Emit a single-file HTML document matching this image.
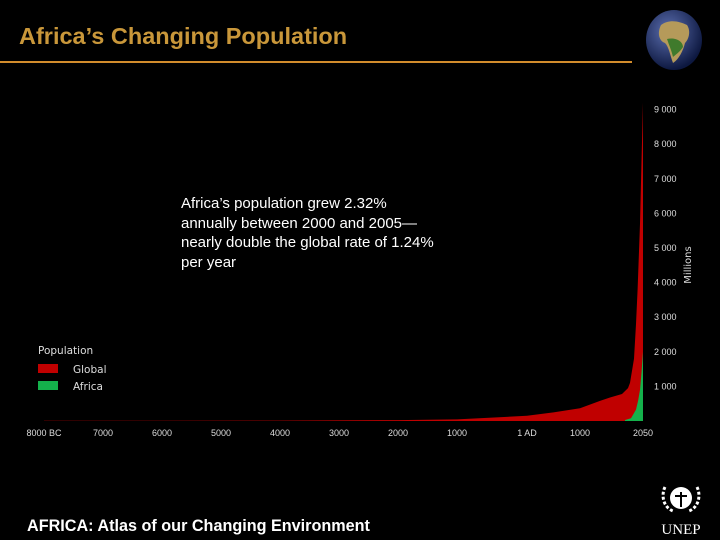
<!DOCTYPE html>
<html><head><meta charset="utf-8"><style>
html,body{margin:0;padding:0;background:#000;}
body{width:720px;height:540px;position:relative;overflow:hidden;font-family:"Liberation Sans",sans-serif;}
.t{position:absolute;white-space:nowrap;}
</style></head><body>
<div class="t" style="left:19px;top:23px;font-size:23.5px;font-weight:bold;color:#c9973a;">Africa’s Changing Population</div>
<div style="position:absolute;left:0;top:61px;width:632px;height:2px;background:#d28c2c;"></div>
<svg style="position:absolute;left:643px;top:9px" width="62" height="62">
<defs><radialGradient id="g" cx="40%" cy="35%" r="65%"><stop offset="0" stop-color="#5c6fb0"/><stop offset="1" stop-color="#0d1840"/></radialGradient></defs>
<ellipse cx="31" cy="31" rx="28" ry="30" fill="url(#g)"/>
<path d="M18 16 C26 10 36 12 44 16 C48 22 46 30 42 34 C40 42 36 50 30 54 C27 46 26 38 22 34 C16 32 14 24 18 16Z" fill="#b59a5a"/>
<path d="M24 30 C32 28 40 32 40 38 C36 44 32 46 30 48 C28 40 26 36 24 30Z" fill="#3f7a2c"/>
</svg>
<div class="t" style="left:181px;top:194px;font-size:15px;color:#fff;line-height:19.5px;">Africa’s population grew 2.32%<br>annually between 2000 and 2005—<br>nearly double the global rate of 1.24%<br>per year</div>
<svg id="chart" style="position:absolute;left:0;top:0" width="720" height="540"></svg>
<div class="t" style="left:27px;top:517px;font-size:16.2px;font-weight:bold;color:#fff;">AFRICA: Atlas of our Changing Environment</div>
<svg style="position:absolute;left:655px;top:477px" width="56" height="60">
<circle cx="26" cy="21" r="11" fill="#fff"/>
<path d="M10 10 C6 18 8 30 18 34 M42 10 C46 18 44 30 34 34" stroke="#fff" stroke-width="3" fill="none" stroke-dasharray="3 2"/>
<path d="M20 19 L32 19 M26 15 L26 30" stroke="#000" stroke-width="2"/>
<text x="26" y="57" text-anchor="middle" font-family="Liberation Serif,serif" font-size="15" fill="#fff">UNEP</text>
</svg>
<script>
const years=[-8000,-6000,-4000,-2000,-1000,1,500,1000,1333,1500,1700,1800,1833,1900,1933,1960,2000,2025,2050];
const globalPop=[5,8,12,25,45,150,250,370,580,680,780,950,1100,1800,2800,3800,5700,7500,9200];
const africaYears=[1750,1850,1933,1970,2000,2025,2050];
const africaPop=[30,80,330,600,900,1400,2000];
const xTickYears=[-8000,-7000,-6000,-5000,-4000,-3000,-2000,-1000,1,1000,2050];
const xTickLabels=["8000 BC","7000","6000","5000","4000","3000","2000","1000","1 AD","1000","2050"];
const yTicks=[1000,2000,3000,4000,5000,6000,7000,8000,9000];
const yTickLabels=["1 000","2 000","3 000","4 000","5 000","6 000","7 000","8 000","9 000"];
// axis scale: piecewise-linear time axis
const SX_YEARS=[-8000,-1000,1,1000,2050], SX_PIX=[44,457,527,580,643];
function x(yr){for(let i=0;i<SX_YEARS.length-1;i++){if(yr<=SX_YEARS[i+1]||i==SX_YEARS.length-2){const t=(yr-SX_YEARS[i])/(SX_YEARS[i+1]-SX_YEARS[i]);return SX_PIX[i]+t*(SX_PIX[i+1]-SX_PIX[i]);}}}
function y(v){return 421-v*0.0346;}
const svg=document.getElementById('chart');const NS='http://www.w3.org/2000/svg';
function el(tag,a){const e=document.createElementNS(NS,tag);for(const k in a)e.setAttribute(k,a[k]);svg.appendChild(e);return e;}
function area(xs,vs){let d='M'+x(xs[0])+','+y(0);xs.forEach((yr,i)=>{d+=' L'+x(yr).toFixed(1)+','+y(vs[i]).toFixed(1);});d+=' L'+x(xs[xs.length-1])+','+y(0)+'Z';return d;}
const g=el('path',{d:area(years,globalPop),fill:'#c00000'});


const a=el('path',{d:area(africaYears,africaPop),fill:'#14b14b'});


xTickYears.forEach((yr,i)=>{const t=el('text',{x:x(yr),y:436,'text-anchor':'middle','font-size':9,fill:'#ddd','font-family':'Liberation Sans,sans-serif'});t.textContent=xTickLabels[i];

});
yTicks.forEach((v,i)=>{const t=el('text',{x:654,y:y(v)+3,'font-size':9,fill:'#ddd','font-family':'Liberation Sans,sans-serif'});t.textContent=yTickLabels[i];

});
const yt=el('text',{x:0,y:0,transform:'translate(691,265) rotate(-90)','text-anchor':'middle','font-size':10,fill:'#ddd','font-family':'DejaVu Sans,sans-serif'});yt.textContent='Millions';


const lt=el('text',{x:38,y:354,'font-size':10.5,fill:'#ddd','font-family':'DejaVu Sans,sans-serif'});lt.textContent='Population';


[['Global','#c00000',364],['Africa','#14b14b',381]].forEach(([n,c,yy])=>{
const r=el('rect',{x:38,y:yy,width:20,height:9,fill:c});


const t=el('text',{x:73,y:yy+9,'font-size':10.5,fill:'#ddd','font-family':'DejaVu Sans,sans-serif'});t.textContent=n;

});
</script>
</body></html>
